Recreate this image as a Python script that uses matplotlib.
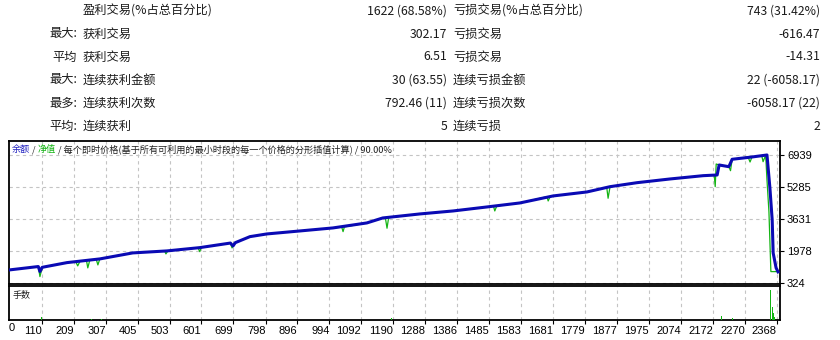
import matplotlib
matplotlib.use("Agg")
import matplotlib.pyplot as plt

plt.rcParams['font.family'] = ['Noto Sans CJK SC', 'DejaVu Sans']

# summary table (rows of the report)
row_prefix = ["", "最大:", "平均", "最大:", "最多:", "平均:"]
win_labels = ["盈利交易(%占总百分比)", "获利交易", "获利交易", "连续获利金额", "连续获利次数", "连续获利"]
win_values = ["1622 (68.58%)", "302.17", "6.51", "30 (63.55)", "792.46 (11)", "5"]
loss_labels = ["亏损交易(%占总百分比)", "亏损交易", "亏损交易", "连续亏损金额", "连续亏损次数", "连续亏损"]
loss_values = ["743 (31.42%)", "-616.47", "-14.31", "22 (-6058.17)", "-6058.17 (22)", "2"]

# balance curve (trade number, value)
bal_t = [12, 100, 105, 112, 188, 289, 390, 495, 596, 690, 698, 705, 750, 802, 904,
         1005, 1109, 1158, 1272, 1374, 1478, 1579, 1681, 1785, 1856, 1939, 2040,
         2142, 2185, 2191, 2221, 2231, 2292, 2338, 2347, 2354, 2357, 2366, 2372]
bal_v = [1017, 1190, 930, 1150, 1392, 1583, 1892, 1995, 2165, 2400, 2250, 2420, 2731,
         2870, 3025, 3180, 3437, 3694, 3901, 4055, 4261, 4467, 4828, 5034, 5306,
         5512, 5703, 5873, 5909, 6424, 6336, 6718, 6836, 6939, 5240, 3592, 1892,
         1120, 914]

# equity curve (trade number, value)
eq_t = [12, 100, 105, 112, 188, 215, 221, 228, 248, 252, 258, 278, 283, 289, 390,
        488, 492, 498, 590, 596, 600, 690, 695, 705, 750, 802, 904, 1005, 1032,
        1036, 1040, 1109, 1158, 1166, 1171, 1176, 1272, 1374, 1478, 1498, 1502,
        1508, 1579, 1662, 1666, 1672, 1681, 1785, 1846, 1850, 1856, 1939, 2040,
        2142, 2176, 2179, 2182, 2191, 2221, 2226, 2231, 2280, 2286, 2292, 2322,
        2326, 2334, 2338, 2344, 2350, 2372]
eq_v = [1017, 1190, 671, 1150, 1392, 1440, 1223, 1460, 1500, 1120, 1510, 1560, 1274,
        1583, 1892, 1990, 1841, 2000, 2160, 1959, 2170, 2400, 2149, 2420, 2731,
        2870, 3025, 3180, 3220, 2989, 3230, 3437, 3694, 3700, 3164, 3710, 3901,
        4055, 4261, 4300, 4055, 4310, 4467, 4790, 4570, 4800, 4828, 5034, 5250,
        4709, 5306, 5512, 5703, 5873, 5900, 5306, 6475, 6424, 6336, 6130, 6718,
        6830, 6578, 6836, 6900, 6594, 6930, 5652, 4019, 929, 929]

# lots
vol_t = [111, 264, 295, 1186, 1518, 1862, 2197, 2231, 2350, 2354, 2357, 2362]
vol_v = [0.08, 0.04, 0.04, 0.05, 0.05, 0.05, 0.13, 0.05, 0.88, 0.39, 0.2, 0.08]

x_ticks = [110, 209, 307, 405, 503, 601, 699, 798, 896, 994, 1092, 1190, 1288, 1386,
           1485, 1583, 1681, 1779, 1877, 1975, 2074, 2172, 2270, 2368]
y_ticks = [324, 1978, 3631, 5285, 6939]

BLUE = '#0a0ab4'
GREEN = '#14b414'
W, H = 840, 340

fig = plt.figure(figsize=(8.4, 3.4), dpi=100)

def fx(px):
    return px / W

def fy(py):
    return 1 - py / H

# --- top table
for i in range(len(row_prefix)):
    y = fy(11 + i * 23)
    kw = dict(fontsize=8.8, va='center', color='#1a1a1a')
    fig.text(fx(77), y, row_prefix[i], ha='right', **kw)
    fig.text(fx(83), y, win_labels[i], ha='left', **kw)
    fig.text(fx(447), y, win_values[i], ha='right', **kw)
    fig.text(fx(453), y, loss_labels[i], ha='left', **kw)
    fig.text(fx(820), y, loss_values[i], ha='right', **kw)

# --- main chart
xmin, xmax = 10, 2378
ax = fig.add_axes([fx(9), fy(284), fx(780 - 9), (284 - 141) / H])
ax.plot(eq_t, eq_v, color=GREEN, lw=0.9, zorder=3)
ax.plot(bal_t, bal_v, color=BLUE, lw=2.2, zorder=4)
ax.set_xlim(xmin, xmax)
ax.set_ylim(290, 7660)
ax.set_xticks(x_ticks)
ax.set_yticks(y_ticks)
ax.yaxis.tick_right()
ax.tick_params(axis='x', length=0, labelbottom=False)
ax.tick_params(axis='y', length=3, width=0.8, pad=2, labelsize=8)
for lab in ax.get_yticklabels():
    lab.set_family(['Liberation Sans', 'DejaVu Sans'])
ax.grid(True, color='#c4c4c4', linestyle=(0, (3, 3)), linewidth=0.8)
for s in ax.spines.values():
    s.set_linewidth(1.3)

# chart caption, coloured pieces
cap = 6.6
t1 = ax.text(0.004, 0.94, "余额", transform=ax.transAxes, fontsize=cap,
             color='#2020c0', va='center', ha='left')
t2 = ax.annotate(" / ", xy=(1, 0.5), xycoords=t1, fontsize=cap, color='#303030',
                 va='center', ha='left')
t3 = ax.annotate("净值", xy=(1, 0.5), xycoords=t2, fontsize=cap, color=GREEN,
                 va='center', ha='left')
ax.annotate(" / 每个即时价格(基于所有可利用的最小时段的每一个价格的分形插值计算) / 90.00%",
            xy=(1, 0.5), xycoords=t3, fontsize=cap, color='#202020',
            va='center', ha='left')

# --- lots panel
vax = fig.add_axes([fx(9), fy(320), fx(780 - 9), (320 - 286) / H])
vax.bar(vol_t, vol_v, width=3, color=GREEN, zorder=3)
vax.set_xlim(xmin, xmax)
vax.set_ylim(0, 1)
vax.set_yticks([])
vax.set_xticks(x_ticks)
vax.set_xticklabels([str(v) for v in x_ticks], ha='right',
                    family=['Liberation Sans', 'DejaVu Sans'])
vax.tick_params(axis='x', length=3, width=0.8, pad=1, labelsize=8)
vax.grid(True, axis='x', color='#c4c4c4', linestyle=(0, (3, 3)), linewidth=0.8)
for s in vax.spines.values():
    s.set_linewidth(1.3)
vax.text(0.005, 0.72, "手数", transform=vax.transAxes, fontsize=6.5,
         color='#202020', va='center', ha='left')
vax.text(0, -0.09, "0", transform=vax.transAxes, fontsize=8, va='top', ha='left',
         family=['Liberation Sans', 'DejaVu Sans'])

fig.savefig("out.png", dpi=100)
